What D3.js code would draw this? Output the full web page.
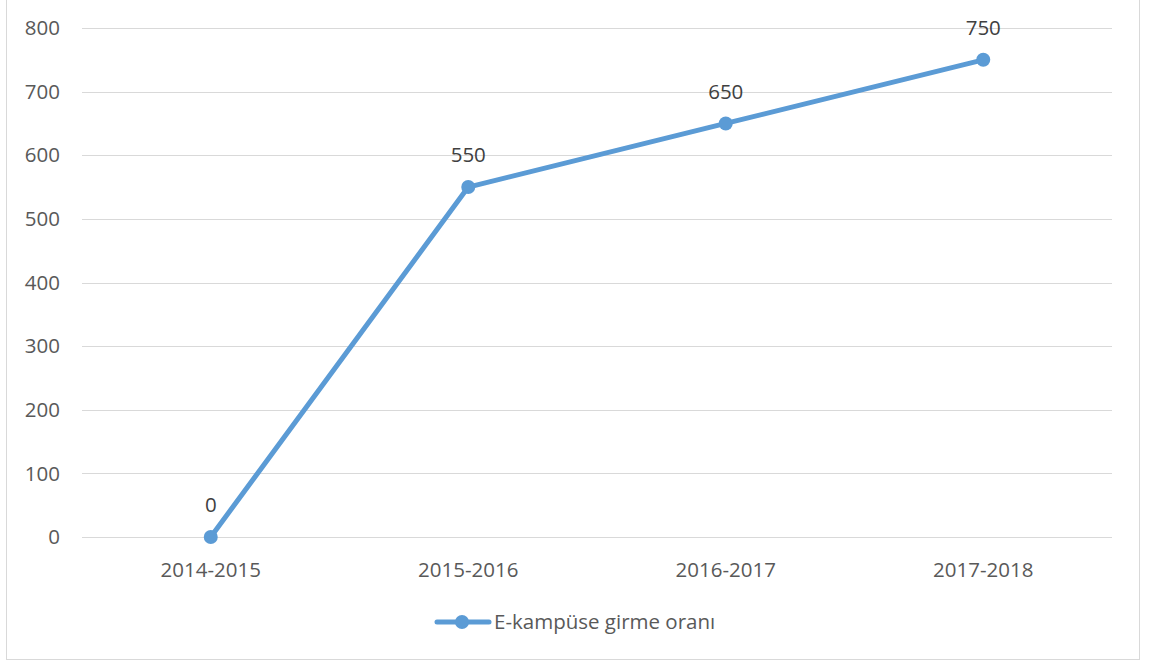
<!DOCTYPE html>
<html><head><meta charset="utf-8">
<script src="https://cdn.jsdelivr.net/npm/d3@7"></script>
<style>body{margin:0;background:#fff;} svg{display:block;}</style>
</head><body>
<svg id="chart" width="1149" height="664"></svg>
<script>
const categories = ["2014-2015","2015-2016","2016-2017","2017-2018"];
const values = [0, 550, 650, 750];
const yTicks = [0,100,200,300,400,500,600,700,800];
const seriesName = "E-kampüse girme oranı";

const svg = d3.select("#chart");
const font = "'Open Sans', sans-serif";
const fs = 20.5;
const textColor = "#595959";
const lineColor = "#5B9BD5";

svg.append("rect").attr("x",6.5).attr("y",-1).attr("width",1133).attr("height",660.5)
  .attr("fill","#fff").attr("stroke","#d9d9d9").attr("stroke-width",1);

const x = d3.scaleBand().domain(categories).range([82,1112]);
const y = d3.scaleLinear().domain([0,800]).range([537,28]);

svg.append("g").selectAll("line").data(yTicks).join("line")
  .attr("x1",82).attr("x2",1112)
  .attr("y1",d=>Math.round(y(d))+0.5).attr("y2",d=>Math.round(y(d))+0.5)
  .attr("stroke","#d9d9d9").attr("stroke-width",1);

svg.append("g").selectAll("text").data(yTicks).join("text")
  .attr("x",60).attr("y",d=>y(d)).attr("dy","0.35em")
  .attr("text-anchor","end").attr("font-family",font).attr("font-size",fs)
  .attr("fill",textColor).text(d=>d);

svg.append("g").selectAll("text").data(categories).join("text")
  .attr("x",d=>x(d)+x.bandwidth()/2).attr("y",570).attr("dy","0.35em")
  .attr("text-anchor","middle").attr("font-family",font).attr("font-size",fs)
  .attr("fill",textColor).text(d=>d);

const pts = categories.map((c,i)=>({c, v:values[i]}));
svg.append("path").datum(pts)
  .attr("d", d3.line().x(d=>x(d.c)+x.bandwidth()/2).y(d=>y(d.v)))
  .attr("fill","none").attr("stroke",lineColor).attr("stroke-width",5).attr("stroke-linejoin","round").attr("stroke-linecap","round");

svg.append("g").selectAll("circle").data(pts).join("circle")
  .attr("cx",d=>x(d.c)+x.bandwidth()/2).attr("cy",d=>y(d.v)).attr("r",7)
  .attr("fill",lineColor);

svg.append("g").selectAll("text").data(pts).join("text")
  .attr("x",d=>x(d.c)+x.bandwidth()/2).attr("y",d=>y(d.v)-32).attr("dy","0.35em")
  .attr("text-anchor","middle").attr("font-family",font).attr("font-size",fs)
  .attr("fill","#404040").text(d=>d.v);

const lg = svg.append("g");
lg.append("line").attr("x1",437).attr("x2",489).attr("y1",622).attr("y2",622)
  .attr("stroke",lineColor).attr("stroke-width",5).attr("stroke-linecap","round");
lg.append("circle").attr("cx",462).attr("cy",622).attr("r",7).attr("fill",lineColor);
lg.append("text").attr("x",494).attr("y",622).attr("dy","0.35em")
  .attr("font-family",font).attr("font-size",fs).attr("fill",textColor).text(seriesName);
</script>
</body></html>
